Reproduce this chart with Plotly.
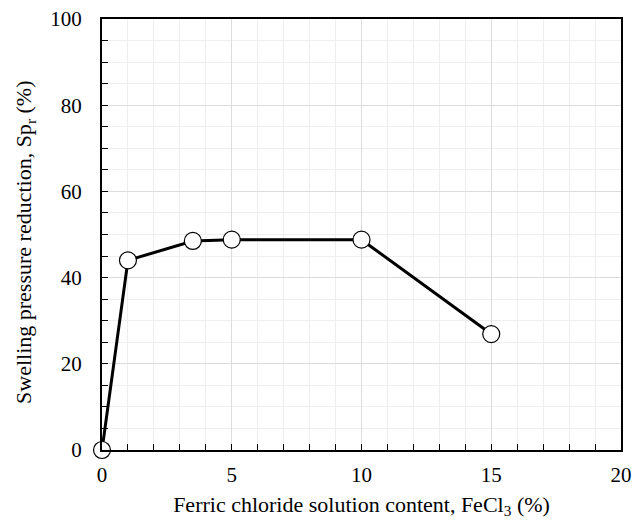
import plotly.graph_objects as go

fecl3 = [0, 1, 3.5, 5, 10, 15]
sp_r = [0, 44, 48.5, 48.8, 48.8, 26.9]

x_ticks = [0, 5, 10, 15, 20]
y_ticks = [0, 20, 40, 60, 80, 100]

font = "Liberation Serif, Times New Roman, serif"

fig = go.Figure()
fig.add_trace(go.Scatter(
    x=fecl3, y=sp_r, mode="lines+markers",
    line=dict(color="black", width=3),
    marker=dict(symbol="circle", size=17, color="white",
                line=dict(color="black", width=1.2)),
    cliponaxis=False, showlegend=False))

axis_common = dict(
    showline=True, linecolor="black", linewidth=2, mirror=True,
    ticks="inside", ticklen=6, tickcolor="black", tickwidth=1,
    zeroline=False, showgrid=True, gridcolor="#dcdcdc", gridwidth=1,
    tickfont=dict(family=font, size=21, color="black"),
    title_font=dict(family=font, size=22, color="black"),
    automargin=False, ticklabeloverflow="allow",
)

fig.update_layout(
    width=636, height=520,
    margin=dict(l=94, r=23, t=11, b=78),
    paper_bgcolor="white", plot_bgcolor="white",
    xaxis=dict(range=[0, 20], tickvals=x_ticks,
               title=dict(text="Ferric chloride solution content, FeCl<sub>3</sub> (%)", standoff=10),
               minor=dict(dtick=1, ticks="inside", ticklen=6, tickcolor="black",
                          showgrid=True, gridcolor="#eeeeee", gridwidth=1),
               ticklabelstandoff=5,
               **axis_common),
    yaxis=dict(range=[0, 100], tickvals=y_ticks,
               minor=dict(dtick=5, ticks="inside", ticklen=6, tickcolor="black",
                          showgrid=True, gridcolor="#eeeeee", gridwidth=1),
               ticklabelstandoff=14,
               **axis_common),
    annotations=[dict(
        text="Swelling pressure reduction, Sp<sub>r</sub> (%)",
        textangle=-90, xref="paper", yref="paper",
        x=-0.1484, y=0.4826, xanchor="center", yanchor="middle",
        showarrow=False, font=dict(family=font, size=22, color="black"))],
)

fig.write_html("out.html")
